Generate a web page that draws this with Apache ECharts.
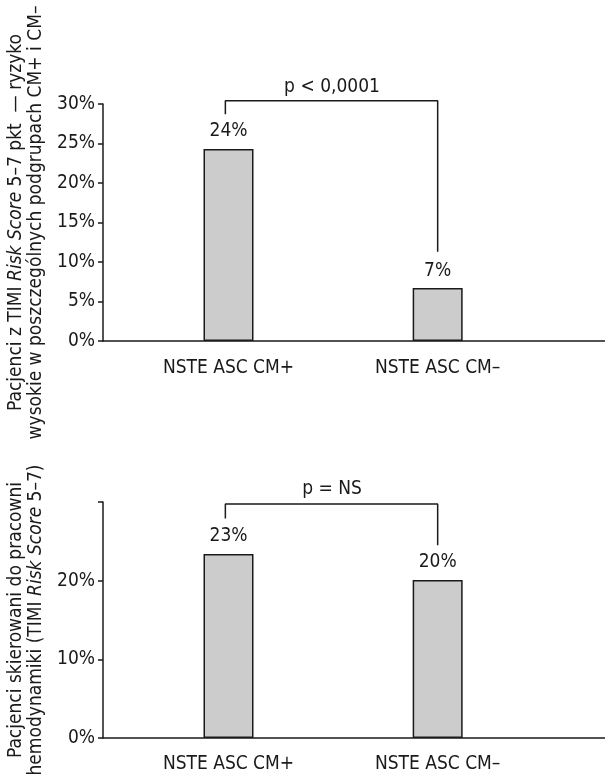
<!DOCTYPE html>
<html>
<head>
<meta charset="utf-8">
<script src="https://cdn.jsdelivr.net/npm/echarts@6/dist/echarts.min.js"></script>
<style>
html,body{margin:0;padding:0;background:#fff;}
#c{width:605px;height:775px;}
</style>
</head>
<body>
<div id="c"></div>
<script>
// ---- data ----
const categories = ['NSTE ASC CM+', 'NSTE ASC CM\u2013'];
const catPos = [1, 2];
const topValues = [24.3, 6.7];
const topLabels = ['24%', '7%'];
const bottomValues = [23.4, 20.1];
const bottomLabels = ['23%', '20%'];
const topTicks = [0, 5, 10, 15, 20, 25, 30];
const bottomTicks = [0, 10, 20, 30];
const bottomTickLabels = ['0%', '10%', '20%', ''];
const topBracket = [[0.985, 28.7], [0.985, 30.4], [2, 30.4], [2, 11.3]];
const bottomBracket = [[0.985, 27.9], [0.985, 29.75], [2, 29.75], [2, 24.5]];
const topP = {x: 1.495, y: 32.2, text: 'p < 0,0001'};
const bottomP = {x: 1.495, y: 31.6, text: 'p = NS'};
const topTitle = 'Pacjenci z TIMI {i|Risk Score} 5\u20137 pkt  \u2014 ryzyko\nwysokie w poszczeg\u00f3lnych podgrupach CM+ i CM\u2013';
const bottomTitle = 'Pacjenci skierowani do pracowni\nhemodynamiki (TIMI {i|Risk Score} 5\u20137)';

const FONT = '"DejaVu Sans Condensed", "Liberation Sans Narrow", sans-serif';
const INK = '#1a1a1a';
const FS = 19;

const chart = echarts.init(document.getElementById('c'), null, {renderer: 'canvas'});

function xAxisDef(gi, margin) {
  return {
    type: 'value', gridIndex: gi, min: 0.4, max: 2.8, interval: 0.2,
    splitLine: {show: false},
    axisLine: {show: true, onZero: false, lineStyle: {color: INK, width: 1.5}},
    axisTick: {show: false},
    axisLabel: {
      show: true, customValues: catPos, margin: margin,
      fontFamily: FONT, fontSize: FS, color: INK,
      formatter: v => { const i = catPos.findIndex(p => Math.abs(p - v) < 1e-6); return i >= 0 ? categories[i] : ''; }
    }
  };
}
function yAxisDef(gi, ticks, tickLabels, title) {
  return {
    type: 'value', gridIndex: gi, min: 0, max: 30, interval: ticks[1] - ticks[0],
    splitLine: {show: false},
    axisLine: {show: true, lineStyle: {color: INK, width: 1.5}},
    axisTick: {show: true, inside: false, length: 5, lineStyle: {color: INK, width: 1.5}},
    axisLabel: {
      fontFamily: FONT, fontSize: FS, color: INK, margin: 8,
      formatter: v => { const i = ticks.indexOf(v); return i >= 0 ? tickLabels[i] : ''; }
    },
    name: title, nameLocation: 'middle', nameGap: 55, nameRotate: 90,
    nameTextStyle: {
      fontFamily: FONT, fontSize: FS, lineHeight: 20, color: INK,
      rich: {i: {fontFamily: FONT, fontSize: FS, lineHeight: 20, fontStyle: 'italic', color: INK}}
    }
  };
}
function barSeries(i, values, labels) {
  return {
    type: 'bar', xAxisIndex: i, yAxisIndex: i, barWidth: 50,
    data: values.map((v, k) => [catPos[k], v]),
    itemStyle: {color: '#cccccc', borderColor: INK, borderWidth: 1.5},
    label: {show: true, position: 'top', distance: 8, fontFamily: FONT, fontSize: FS, color: INK,
      formatter: p => labels[p.dataIndex]},
    silent: true
  };
}
function bracketSeries(i, pts) {
  return {type: 'line', xAxisIndex: i, yAxisIndex: i, data: pts, symbol: 'none', clip: false,
    lineStyle: {color: INK, width: 1.5}, silent: true, z: 5};
}
function pSeries(i, p) {
  return {type: 'scatter', xAxisIndex: i, yAxisIndex: i, data: [[p.x, p.y]], symbolSize: 0, clip: false, silent: true,
    itemStyle: {opacity: 1},
    label: {show: true, position: 'inside', fontFamily: FONT, fontSize: FS, color: INK, formatter: () => p.text}};
}

chart.setOption({
  animation: false,
  backgroundColor: '#fff',
  grid: [
    {left: 103, right: 0, top: 104, height: 237, outerBoundsMode: 'none', containLabel: false},
    {left: 103, right: 0, top: 502, height: 236, outerBoundsMode: 'none', containLabel: false}
  ],
  xAxis: [xAxisDef(0, 18), xAxisDef(1, 17)],
  yAxis: [
    yAxisDef(0, topTicks, topTicks.map(t => t + '%'), topTitle),
    yAxisDef(1, bottomTicks, bottomTickLabels, bottomTitle)
  ],
  series: [
    barSeries(0, topValues, topLabels),
    barSeries(1, bottomValues, bottomLabels),
    bracketSeries(0, topBracket),
    bracketSeries(1, bottomBracket),
    pSeries(0, topP),
    pSeries(1, bottomP)
  ]
});
</script>
</body>
</html>
